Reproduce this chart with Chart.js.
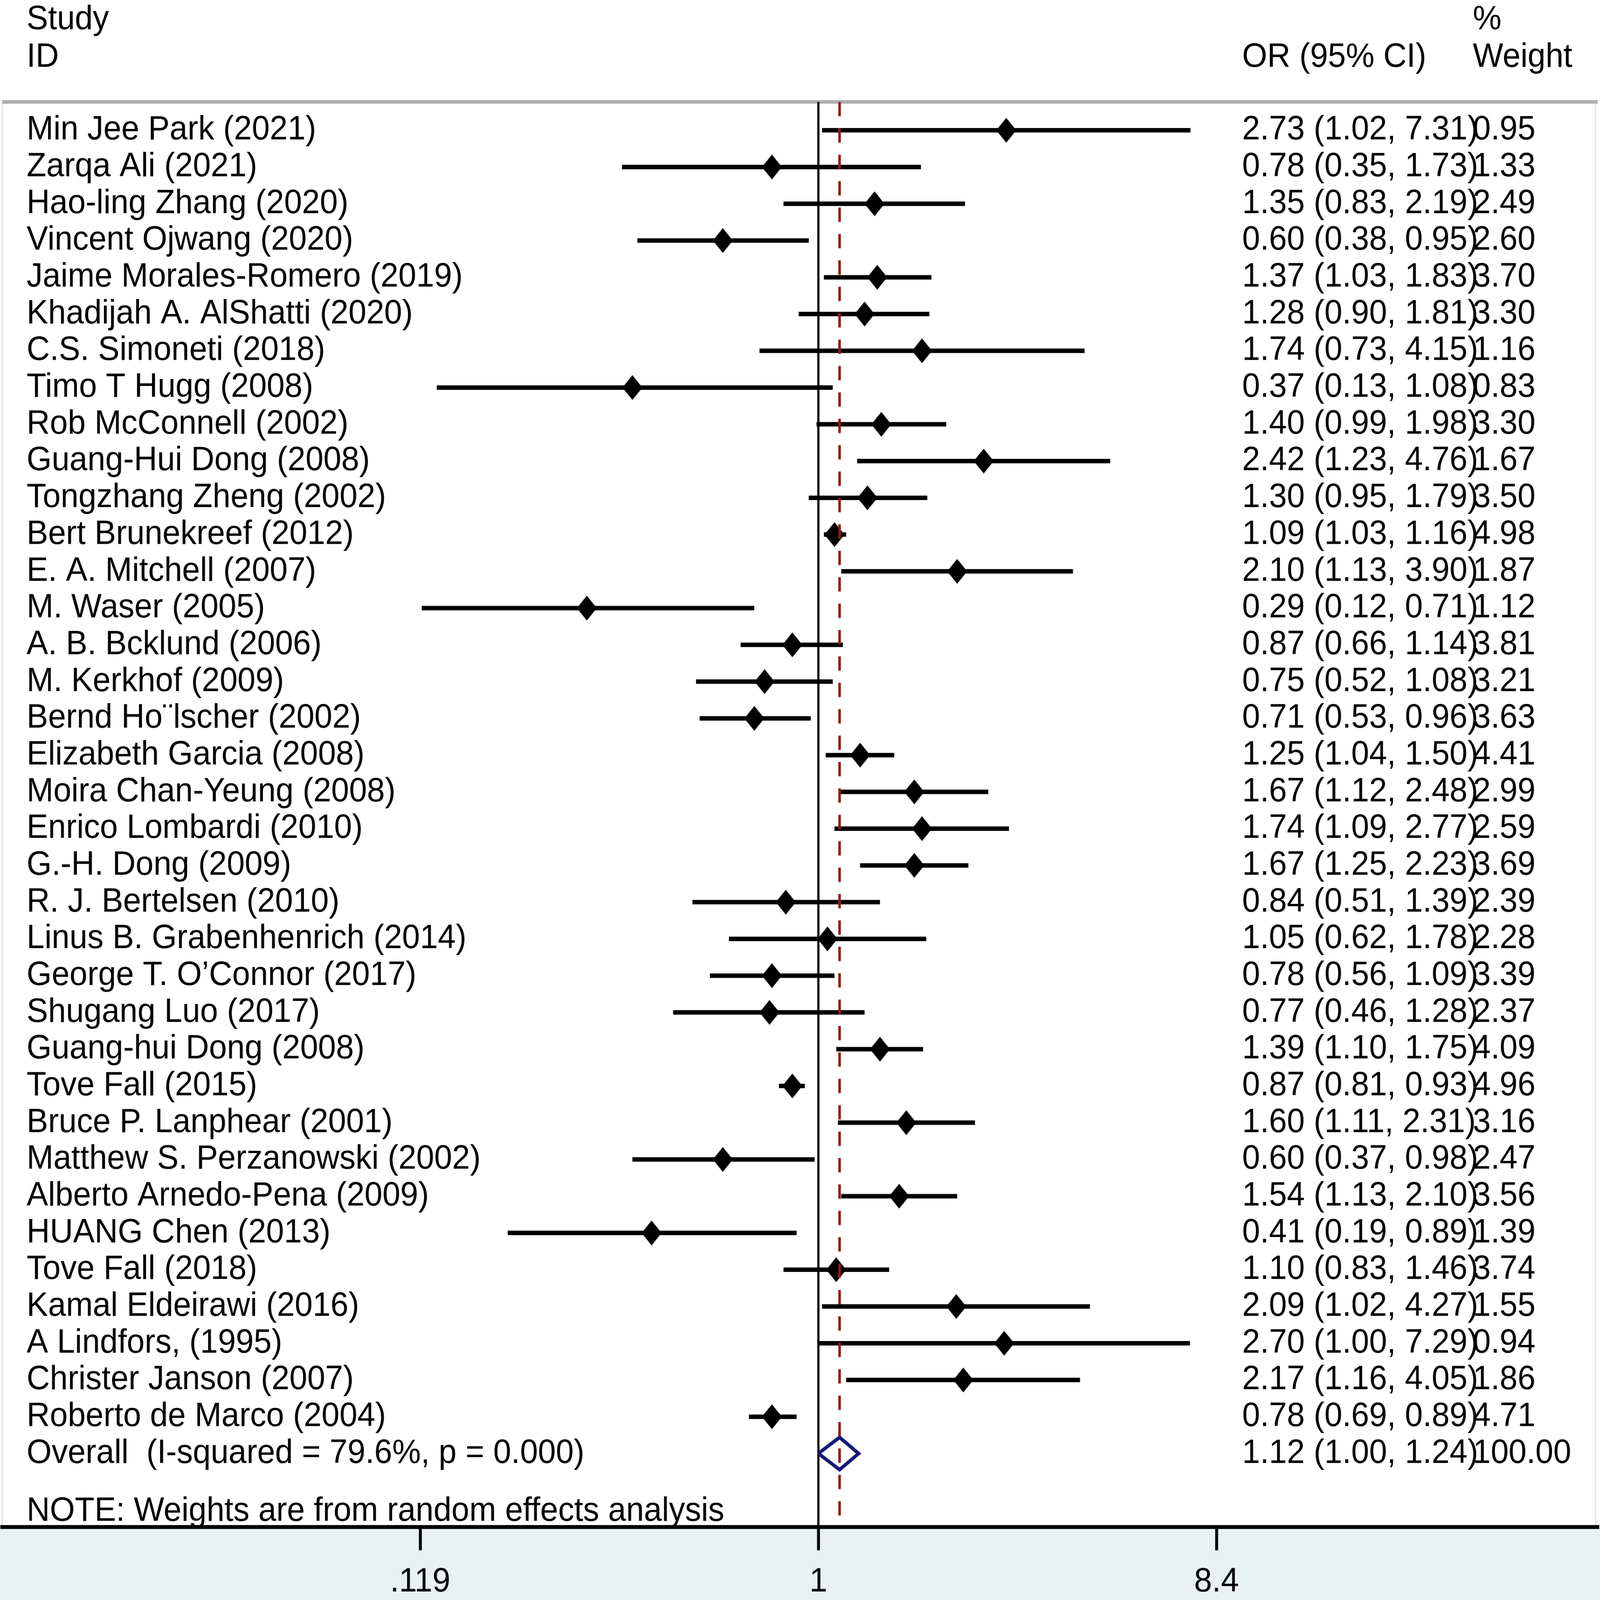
<!DOCTYPE html>
<html>
<head>
<meta charset="utf-8">
<script src="https://cdn.jsdelivr.net/npm/chart.js@4.4.1/dist/chart.umd.min.js"></script>
<style>
html,body{margin:0;padding:0;background:#fff;overflow:hidden;}
#c{display:block;}
</style>
</head>
<body>
<canvas id="c" width="4328" height="4121" style="width:100vw;height:100vh;"></canvas>
<script>
// ---------------- DATA ----------------
const studies = [
  'Min Jee Park (2021)','Zarqa Ali (2021)','Hao-ling Zhang (2020)','Vincent Ojwang (2020)',
  'Jaime Morales-Romero (2019)','Khadijah A. AlShatti (2020)','C.S. Simoneti (2018)','Timo T Hugg (2008)',
  'Rob McConnell (2002)','Guang-Hui Dong (2008)','Tongzhang Zheng (2002)','Bert Brunekreef (2012)',
  'E. A. Mitchell (2007)','M. Waser (2005)','A. B. Bcklund (2006)','M. Kerkhof (2009)',
  'Bernd Ho\u00A8lscher (2002)','Elizabeth Garcia (2008)','Moira Chan-Yeung (2008)','Enrico Lombardi (2010)',
  'G.-H. Dong (2009)','R. J. Bertelsen (2010)','Linus B. Grabenhenrich (2014)','George T. O\u2019Connor (2017)',
  'Shugang Luo (2017)','Guang-hui Dong (2008)','Tove Fall (2015)','Bruce P. Lanphear (2001)',
  'Matthew S. Perzanowski (2002)','Alberto Arnedo-Pena (2009)','HUANG Chen (2013)','Tove Fall (2018)',
  'Kamal Eldeirawi (2016)','A Lindfors, (1995)','Christer Janson (2007)','Roberto de Marco (2004)'
];
const oddsRatio = [2.73,0.78,1.35,0.60,1.37,1.28,1.74,0.37,1.40,2.42,1.30,1.09,2.10,0.29,0.87,0.75,0.71,1.25,
                   1.67,1.74,1.67,0.84,1.05,0.78,0.77,1.39,0.87,1.60,0.60,1.54,0.41,1.10,2.09,2.70,2.17,0.78];
const ciLower   = [1.02,0.35,0.83,0.38,1.03,0.90,0.73,0.13,0.99,1.23,0.95,1.03,1.13,0.12,0.66,0.52,0.53,1.04,
                   1.12,1.09,1.25,0.51,0.62,0.56,0.46,1.10,0.81,1.11,0.37,1.13,0.19,0.83,1.02,1.00,1.16,0.69];
const ciUpper   = [7.31,1.73,2.19,0.95,1.83,1.81,4.15,1.08,1.98,4.76,1.79,1.16,3.90,0.71,1.14,1.08,0.96,1.50,
                   2.48,2.77,2.23,1.39,1.78,1.09,1.28,1.75,0.93,2.31,0.98,2.10,0.89,1.46,4.27,7.29,4.05,0.89];
const weights   = [0.95,1.33,2.49,2.60,3.70,3.30,1.16,0.83,3.30,1.67,3.50,4.98,1.87,1.12,3.81,3.21,3.63,4.41,
                   2.99,2.59,3.69,2.39,2.28,3.39,2.37,4.09,4.96,3.16,2.47,3.56,1.39,3.74,1.55,0.94,1.86,4.71];

const overallLabel = 'Overall  (I-squared = 79.6%, p = 0.000)';
const overallOR = 1.12;
const overallLower = 1.00;
const overallUpper = 1.24;
const overallWeight = 100.00;

const xTickValues = [0.119, 1, 8.4];
const xTickLabels = ['.119', '1', '8.4'];

const headerStudy = ['Study', 'ID'];
const headerOR = 'OR (95% CI)';
const headerWeight = ['%', 'Weight'];
const noteText = 'NOTE: Weights are from random effects analysis';

// ---------------- STYLE / LAYOUT ----------------
const FONT = '"Liberation Sans", Arial, Helvetica, sans-serif';
const FS = 87;
const X_MIN = 0.01274, X_MAX = 64.5;      // log-scale extent spanning canvas width
const Y_MIN = -3.48, Y_MAX = 38.0;        // row scale (reversed)
const ROW_STUDY_HDR = -3.0, ROW_ID_HDR = -1.98, ROW_RULE = -0.77, ROW_NOTE = 37.58;
const overallRow = studies.length;

// diamond marker image
const diamond = document.createElement('canvas');
diamond.width = 54; diamond.height = 64;
(function(){
  const g = diamond.getContext('2d');
  g.fillStyle = '#000';
  g.beginPath();
  g.moveTo(27,0); g.lineTo(54,32); g.lineTo(27,64); g.lineTo(0,32); g.closePath();
  g.fill();
})();

const datasets = [];

// red dashed overall line (top)
datasets.push({
  type:'scatter', order:0, showLine:true,
  data:[{x:overallOR,y:ROW_RULE},{x:overallOR,y:Y_MAX}],
  borderColor:'#8e1b1b', borderWidth:7, borderDash:[37,31], pointRadius:0, fill:false
});
// overall diamond
datasets.push({
  type:'scatter', order:1, showLine:true,
  data:[{x:overallLower,y:overallRow},{x:overallOR,y:overallRow-0.44},{x:overallUpper,y:overallRow},
        {x:overallOR,y:overallRow+0.44},{x:overallLower,y:overallRow}],
  borderColor:'#161679', borderWidth:9, borderJoinStyle:'miter', pointRadius:0, fill:false, tension:0
});
// study point estimates
datasets.push({
  type:'scatter', order:2,
  data: oddsRatio.map((v,i)=>({x:v,y:i})),
  pointStyle: diamond, pointRadius: 5, showLine:false
});
// CI lines
studies.forEach((s,i)=>{
  datasets.push({
    type:'scatter', order:3, showLine:true,
    data:[{x:ciLower[i],y:i},{x:ciUpper[i],y:i}],
    borderColor:'#000', borderWidth:11.5, borderCapStyle:'butt', pointRadius:0, fill:false
  });
});
// null line at 1
datasets.push({
  type:'scatter', order:4, showLine:true,
  data:[{x:1,y:ROW_RULE},{x:1,y:Y_MAX}],
  borderColor:'#000', borderWidth:6, pointRadius:0, fill:false
});
// header rule
datasets.push({
  type:'scatter', order:5, showLine:true,
  data:[{x:X_MIN,y:ROW_RULE},{x:X_MAX,y:ROW_RULE}],
  borderColor:'#adadad', borderWidth:9, pointRadius:0, fill:false
});

const bgPlugin = {
  id:'bg',
  beforeDraw(chart){
    const {ctx, chartArea, width, height} = chart;
    ctx.save();
    ctx.fillStyle = '#ffffff';
    ctx.fillRect(0,0,width,height);
    ctx.fillStyle = '#e9f1f2';
    ctx.fillRect(0, chartArea.bottom, width, height - chartArea.bottom);
    const yRule = chart.scales.y.getPixelForValue(ROW_RULE);
    ctx.strokeStyle = '#e2e2e2';
    ctx.lineWidth = 3;
    ctx.beginPath();
    ctx.moveTo(6, yRule); ctx.lineTo(6, chartArea.bottom);
    ctx.moveTo(4316, yRule); ctx.lineTo(4316, chartArea.bottom);
    ctx.stroke();
    ctx.restore();
  }
};

const textPlugin = {
  id:'texts',
  afterDatasetsDraw(chart){
    const {ctx} = chart;
    const y = chart.scales.y;
    const XS = 72, XOR = 3360, XW = 3984;
    ctx.save();
    ctx.fillStyle = '#000';
    ctx.font = FS + 'px ' + FONT;
    ctx.textBaseline = 'middle';
    ctx.textAlign = 'left';
    ctx.fillText(headerStudy[0], XS, y.getPixelForValue(ROW_STUDY_HDR));
    ctx.fillText(headerStudy[1], XS, y.getPixelForValue(ROW_ID_HDR));
    ctx.fillText(headerOR, XOR, y.getPixelForValue(ROW_ID_HDR));
    ctx.fillText(headerWeight[0], XW, y.getPixelForValue(ROW_STUDY_HDR));
    ctx.fillText(headerWeight[1], XW, y.getPixelForValue(ROW_ID_HDR));
    studies.forEach((s,i)=>{
      const py = y.getPixelForValue(i);
      ctx.fillText(s, XS, py);
      ctx.fillText(oddsRatio[i].toFixed(2)+' ('+ciLower[i].toFixed(2)+', '+ciUpper[i].toFixed(2)+')', XOR, py);
      ctx.fillText(weights[i].toFixed(2), XW, py);
    });
    const po = y.getPixelForValue(overallRow);
    ctx.fillText(overallLabel, XS, po);
    ctx.fillText(overallOR.toFixed(2)+' ('+overallLower.toFixed(2)+', '+overallUpper.toFixed(2)+')', XOR, po);
    ctx.fillText(overallWeight.toFixed(2), XW, po);
    ctx.fillText(noteText, XS, y.getPixelForValue(ROW_NOTE));
    ctx.restore();
  }
};

new Chart(document.getElementById('c'), {
  type:'scatter',
  data:{datasets},
  options:{
    responsive:false,
    devicePixelRatio:1,
    animation:false,
    events:[],
    layout:{padding:0},
    plugins:{legend:{display:false}, tooltip:{enabled:false}, title:{display:false}},
    scales:{
      x:{
        type:'logarithmic',
        position:'bottom',
        min:X_MIN, max:X_MAX,
        afterBuildTicks(scale){ scale.ticks = xTickValues.map(v=>({value:v})); },
        afterFit(scale){ scale.height = 188; },
        ticks:{
          autoSkip:false, maxRotation:0, minRotation:0,
          color:'#000', padding:30,
          font:{family:FONT, size:FS},
          callback:(v,i)=>xTickLabels[i]
        },
        grid:{drawOnChartArea:false, drawTicks:true, tickLength:60, color:'#000', lineWidth:8},
        border:{display:true, color:'#000', width:10, z:1}
      },
      y:{
        type:'linear', reverse:true, min:Y_MIN, max:Y_MAX, display:false
      }
    }
  },
  plugins:[bgPlugin, textPlugin]
});
</script>
</body>
</html>
